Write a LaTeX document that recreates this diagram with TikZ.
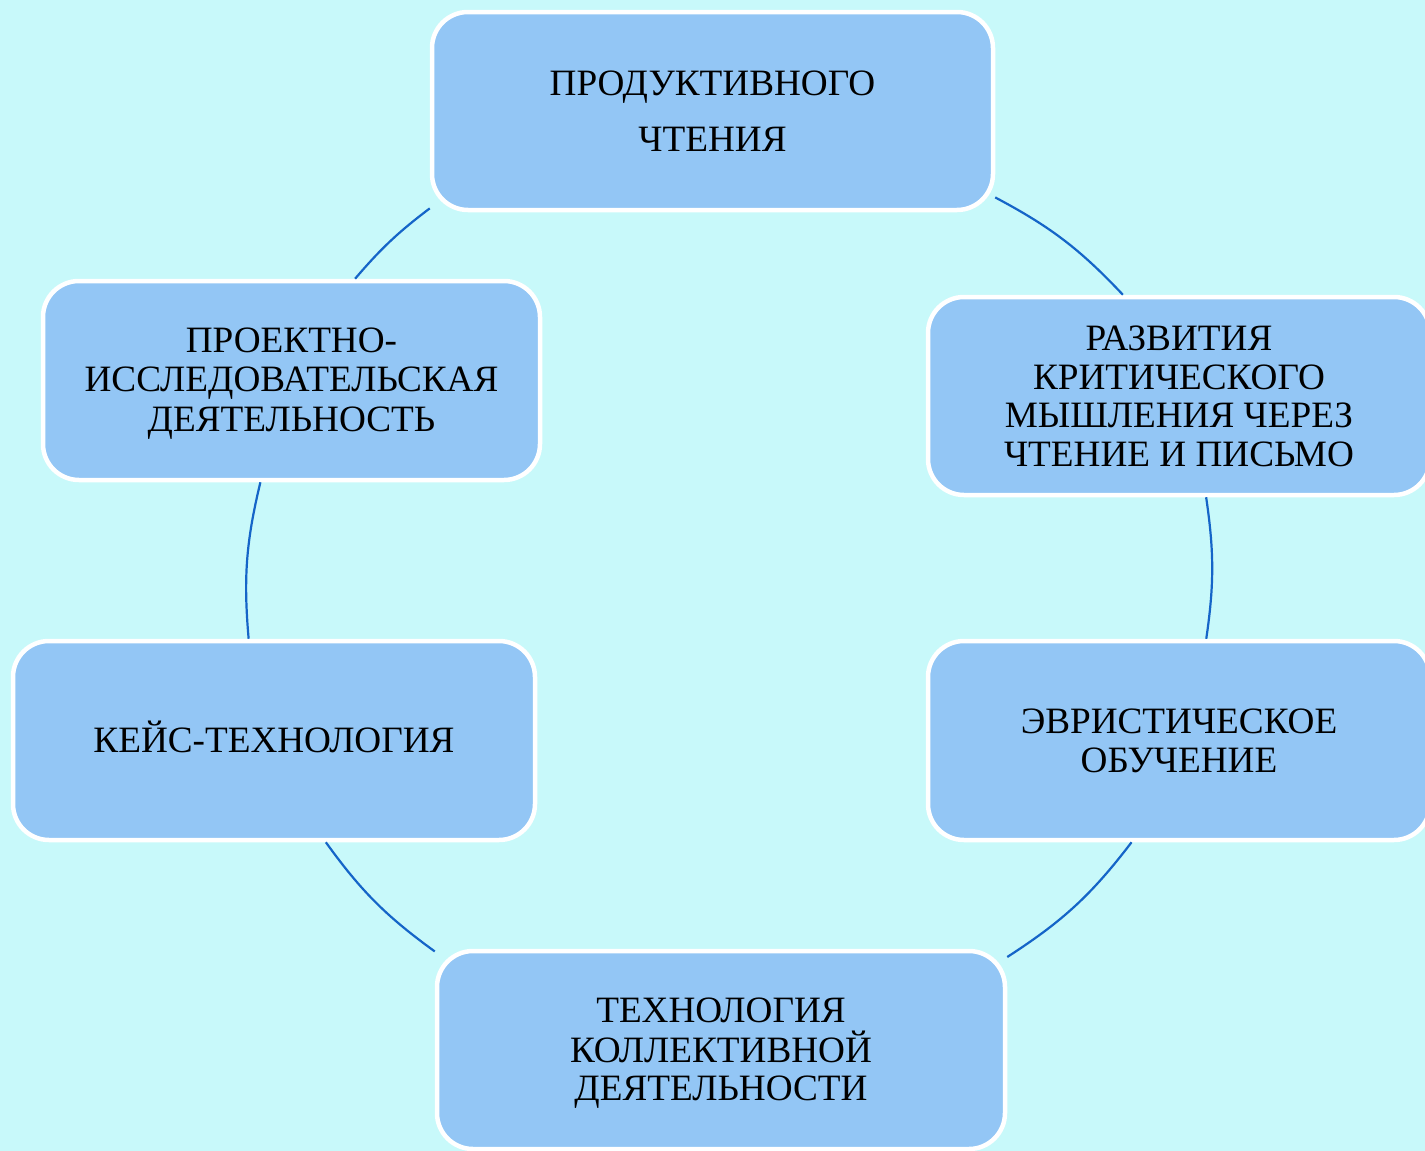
\documentclass[tikz,border=0pt]{standalone}
\usepackage{fontspec}
\setmainfont{Liberation Serif}
\definecolor{bg}{HTML}{C8F9FA}
\definecolor{boxfill}{HTML}{93C6F5}
\definecolor{arcblue}{HTML}{1565C8}
\newcommand\lst{\rule[-7pt]{0pt}{38.5pt}}
\begin{document}
\begin{tikzpicture}[x=1pt,y=1pt,
  cbox/.style={draw=white, line width=4.5pt, fill=boxfill, rounded corners=36pt,
    inner sep=0pt, align=center, font=\fontsize{37.2}{38.5}\selectfont, text=black},
  cyc/.style={draw=arcblue, line width=2.2pt}]
\fill[bg] (0,0) rectangle (1425,-1151);
\useasboundingbox (0,0) rectangle (1425,-1151);

\node[cbox, minimum width=561pt, minimum height=198pt] (top) at (712.5,-111)
  {\lst ПРОДУКТИВНОГО\\[15.5pt]\lst ЧТЕНИЯ};
\node[cbox, minimum width=502pt, minimum height=198pt] (ru) at (1179,-396)
  {\lst РАЗВИТИЯ\\\lst КРИТИЧЕСКОГО\\\lst МЫШЛЕНИЯ ЧЕРЕЗ\\\lst ЧТЕНИЕ И ПИСЬМО};
\node[cbox, minimum width=502pt, minimum height=199pt] (rl) at (1179,-740.5)
  {\lst ЭВРИСТИЧЕСКОЕ\\\lst ОБУЧЕНИЕ};
\node[cbox, minimum width=568pt, minimum height=198pt] (bt) at (721,-1050)
  {\lst ТЕХНОЛОГИЯ\\\lst КОЛЛЕКТИВНОЙ\\\lst ДЕЯТЕЛЬНОСТИ};
\node[cbox, minimum width=522pt, minimum height=199pt] (ll) at (274,-740.5)
  {\lst КЕЙС-ТЕХНОЛОГИЯ};
\node[cbox, minimum width=497pt, minimum height=199pt] (lu) at (291.5,-380.5)
  {\lst ПРОЕКТНО-\\\lst ИССЛЕДОВАТЕЛЬСКАЯ\\\lst ДЕЯТЕЛЬНОСТЬ};

\draw[cyc] (top.-17.5) to[bend left=9.4] (ru.119.1);
\draw[cyc] (ru.-75) to[bend left=8.35] (rl.75.4);
\draw[cyc] (rl.-115.1) to[bend left=9.9] (bt.18.7);
\draw[cyc] (bt.161.3) to[bend left=9.1] (ll.-63.5);
\draw[cyc] (ll.104.5) to[bend left=9.25] (lu.-107.8);
\draw[cyc] (lu.58.1) to[bend left=6.15] (top.199.7);
\end{tikzpicture}
\end{document}
